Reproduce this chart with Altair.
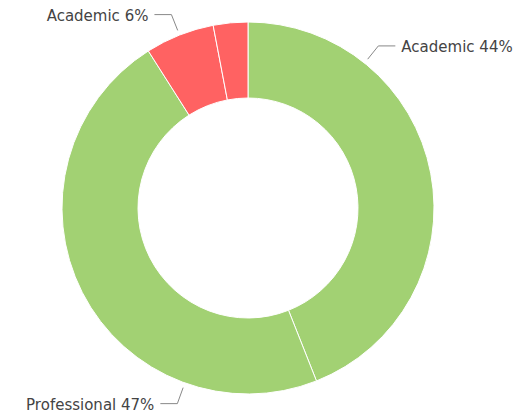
import math
import altair as alt
import pandas as pd

# ---- data ----
names = ["Academic", "Professional", "Academic", "Professional"]
values = [44, 47, 6, 3]
show_label = [True, True, True, False]
colors = ["#A2D173", "#A2D173", "#FF6262", "#FF6262"]

# layout parameters (styling, not data)
W, H = 509, 408
CX, CY = 240, 200
R_IN, R_OUT = 110, 186
anchor_frac = [0.245, 0.245, 0.5, 0.5]

total = sum(values)
rows = []
cum = 0
for i, v in enumerate(values):
    rows.append({"idx": i, "name": names[i], "value": v, "color": colors[i],
                 "label": f"{names[i]} {v}%", "start": cum})
    cum += v
df = pd.DataFrame(rows)

line_rows, text_rows = [], []
for r in rows:
    if not show_label[r["idx"]]:
        continue
    a = 2 * math.pi * (r["start"] + anchor_frac[r["idx"]] * r["value"]) / total
    s = 1 if math.sin(a) >= 0 else -1
    p0 = (191 * math.sin(a), 191 * math.cos(a))
    p1 = (208 * math.sin(a), 208 * math.cos(a))
    p2 = (p1[0] + s * 17, p1[1])
    for k, p in enumerate([p0, p1, p2]):
        line_rows.append({"label": r["label"], "k": k, "x": p[0], "y": p[1]})
    text_rows.append({"label": r["label"], "x": p2[0] + s * 6, "y": p2[1],
                      "align": "left" if s > 0 else "right"})
lines = pd.DataFrame(line_rows)
texts = pd.DataFrame(text_rows)

xs = alt.Scale(domain=[-CX, W - CX], range=[0, W])
ys = alt.Scale(domain=[-(H - CY), CY], range=[H, 0])

arcs = alt.Chart(df).mark_arc(innerRadius=R_IN, outerRadius=R_OUT, stroke="white", strokeWidth=1).encode(
    theta=alt.Theta("value:Q", stack=True),
    color=alt.Color("idx:N", scale=alt.Scale(domain=list(range(len(values))), range=colors), legend=None),
    order=alt.Order("idx:Q"),
    x=alt.value(CX),
    y=alt.value(CY),
)

leader = alt.Chart(lines).mark_line(color="#888888", strokeWidth=1).encode(
    x=alt.X("x:Q", scale=xs, axis=None),
    y=alt.Y("y:Q", scale=ys, axis=None),
    detail="label:N",
    order="k:Q",
)

def text_layer(align):
    return alt.Chart(texts[texts["align"] == align]).mark_text(
        align=align, baseline="middle", dy=1, font="DejaVu Sans", fontSize=15, color="#444444"
    ).encode(
        x=alt.X("x:Q", scale=xs, axis=None),
        y=alt.Y("y:Q", scale=ys, axis=None),
        text="label:N",
    )

chart = alt.layer(arcs, leader, text_layer("left"), text_layer("right")).properties(
    width=W, height=H, padding=0, autosize=alt.AutoSizeParams(type="none")
).configure_view(stroke=None)

chart.save("out.html", embed_options={"renderer": "svg", "actions": False})
